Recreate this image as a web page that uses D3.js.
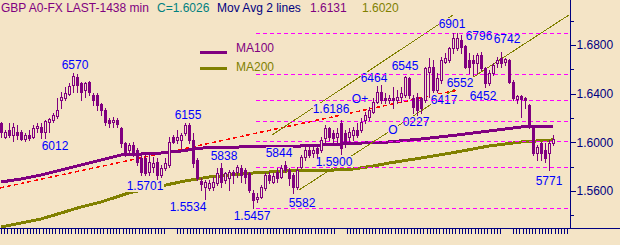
<!DOCTYPE html>
<html>
<head>
<meta charset="utf-8">
<script src="https://cdn.jsdelivr.net/npm/d3@7"></script>
<style>
  html, body { margin: 0; padding: 0; background: #f4e4c6; }
  svg { display: block; shape-rendering: crispEdges; }
  text { font-family: "Liberation Sans", Arial, sans-serif; font-size: 12px; }
</style>
</head>
<body>
<svg id="chart" width="620" height="245"></svg>
<script>
// daily bars GBP, oldest first
var open = [1.6159,1.6044,1.6101,1.6060,1.6085,1.6085,1.6027,1.6060,1.6044,1.6118,
  1.6126,1.6085,1.6167,1.6184,1.6216,1.6348,1.6364,1.6397,1.6471,1.6537,
  1.6488,1.6430,1.6496,1.6389,1.6389,1.6315,1.6266,1.6184,1.6167,1.6184,
  1.6118,1.5994,1.5937,1.5978,1.5937,1.5871,1.5871,1.5756,1.5797,1.5838,
  1.5731,1.5789,1.5814,1.6044,1.6019,1.6019,1.6077,1.6142,1.6019,1.5855,
  1.5682,1.5633,1.5625,1.5633,1.5666,1.5789,1.5690,1.5707,1.5756,1.5756,
  1.5789,1.5773,1.5748,1.5584,1.5534,1.5551,1.5625,1.5731,1.5674,1.5756,
  1.5715,1.5814,1.5773,1.5731,1.5633,1.5797,1.5879,1.5937,1.5912,1.5953,
  1.5937,1.6036,1.6118,1.6077,1.6044,1.6159,1.6077,1.6044,1.6060,1.6101,
  1.6101,1.6184,1.6208,1.6249,1.6331,1.6414,1.6364,1.6348,1.6364,1.6348,
  1.6373,1.6389,1.6529,1.6364,1.6373,1.6364,1.6348,1.6578,1.6619,1.6430,
  1.6512,1.6660,1.6677,1.6775,1.6775,1.6841,1.6792,1.6677,1.6677,1.6652,
  1.6718,1.6611,1.6488,1.6570,1.6652,1.6693,1.6660,1.6677,1.6496,1.6356,
  1.6381,1.6364,1.6307,1.6126,1.5912,1.5994,1.5937,1.5912,1.5994];
var high = [1.6167,1.6101,1.6159,1.6159,1.6142,1.6101,1.6077,1.6101,1.6142,1.6159,
  1.6159,1.6184,1.6200,1.6241,1.6364,1.6414,1.6455,1.6488,1.6570,1.6562,
  1.6496,1.6496,1.6504,1.6405,1.6405,1.6323,1.6282,1.6200,1.6208,1.6200,
  1.6126,1.6003,1.5994,1.6003,1.5953,1.5896,1.5896,1.5896,1.5879,1.5871,
  1.5814,1.5871,1.6044,1.6060,1.6101,1.6077,1.6155,1.6155,1.6077,1.5871,
  1.5707,1.5690,1.5690,1.5715,1.5789,1.5830,1.5756,1.5773,1.5773,1.5814,
  1.5814,1.5789,1.5756,1.5608,1.5584,1.5649,1.5748,1.5756,1.5748,1.5789,
  1.5814,1.5844,1.5789,1.5748,1.5797,1.5896,1.5978,1.5978,1.5962,1.5978,
  1.6044,1.6142,1.6126,1.6101,1.6118,1.6186,1.6101,1.6118,1.6126,1.6159,
  1.6200,1.6249,1.6290,1.6364,1.6464,1.6471,1.6405,1.6389,1.6455,1.6430,
  1.6455,1.6545,1.6537,1.6389,1.6405,1.6373,1.6619,1.6693,1.6677,1.6570,
  1.6701,1.6734,1.6784,1.6901,1.6899,1.6882,1.6796,1.6734,1.6718,1.6734,
  1.6742,1.6619,1.6595,1.6652,1.6701,1.6742,1.6693,1.6685,1.6512,1.6389,
  1.6389,1.6373,1.6315,1.6134,1.5978,1.6003,1.5994,1.6019,1.6060];
var low = [1.6044,1.6036,1.6044,1.6011,1.6027,1.6019,1.6012,1.6019,1.6036,1.6085,
  1.6036,1.6036,1.6085,1.6167,1.6200,1.6282,1.6348,1.6389,1.6414,1.6414,
  1.6348,1.6373,1.6389,1.6307,1.6266,1.6225,1.6142,1.6126,1.6126,1.6126,
  1.5962,1.5888,1.5921,1.5888,1.5814,1.5731,1.5731,1.5731,1.5756,1.5701,
  1.5715,1.5773,1.5797,1.5994,1.5994,1.5962,1.6060,1.5994,1.5797,1.5690,
  1.5608,1.5534,1.5608,1.5608,1.5649,1.5633,1.5666,1.5608,1.5666,1.5715,
  1.5674,1.5666,1.5592,1.5457,1.5510,1.5543,1.5608,1.5666,1.5666,1.5674,
  1.5707,1.5756,1.5649,1.5582,1.5616,1.5789,1.5855,1.5879,1.5879,1.5879,
  1.5921,1.6003,1.6019,1.6003,1.5994,1.5900,1.5962,1.6003,1.6019,1.6044,
  1.6085,1.6159,1.6184,1.6241,1.6323,1.6323,1.6323,1.6323,1.6282,1.6323,
  1.6331,1.6373,1.6364,1.6241,1.6227,1.6241,1.6331,1.6373,1.6417,1.6414,
  1.6488,1.6652,1.6660,1.6734,1.6759,1.6734,1.6611,1.6570,1.6552,1.6570,
  1.6595,1.6452,1.6471,1.6553,1.6619,1.6619,1.6636,1.6488,1.6348,1.6323,
  1.6208,1.6282,1.6118,1.5896,1.5855,1.5855,1.5838,1.5771,1.5978];
var close = [1.6085,1.6085,1.6060,1.6126,1.6060,1.6027,1.6060,1.6036,1.6118,1.6134,
  1.6085,1.6175,1.6192,1.6225,1.6266,1.6373,1.6405,1.6463,1.6545,1.6471,
  1.6414,1.6488,1.6414,1.6348,1.6307,1.6266,1.6167,1.6159,1.6184,1.6151,
  1.5994,1.5896,1.5978,1.5896,1.5838,1.5756,1.5748,1.5838,1.5830,1.5731,
  1.5789,1.5830,1.6003,1.6003,1.6044,1.6060,1.6142,1.6019,1.5830,1.5707,
  1.5658,1.5674,1.5666,1.5674,1.5748,1.5674,1.5748,1.5756,1.5731,1.5797,
  1.5731,1.5715,1.5608,1.5526,1.5551,1.5633,1.5731,1.5690,1.5723,1.5707,
  1.5789,1.5773,1.5707,1.5633,1.5773,1.5879,1.5937,1.5896,1.5937,1.5912,
  1.6019,1.6118,1.6044,1.6036,1.6077,1.5953,1.5994,1.6085,1.6101,1.6060,
  1.6167,1.6225,1.6266,1.6331,1.6414,1.6348,1.6348,1.6364,1.6348,1.6373,
  1.6405,1.6537,1.6389,1.6290,1.6266,1.6282,1.6611,1.6619,1.6430,1.6529,
  1.6677,1.6693,1.6775,1.6858,1.6858,1.6784,1.6619,1.6619,1.6652,1.6718,
  1.6611,1.6488,1.6570,1.6636,1.6677,1.6652,1.6685,1.6496,1.6364,1.6381,
  1.6356,1.6348,1.6126,1.5912,1.5962,1.5912,1.5871,1.5994,1.6026];

// moving averages, read at some bars
var ma100Bar = [0,5,10,15,20,25,30,35,40,45,50,60,70,80,90,97,105,114,122,130,138];
var ma100 = [1.5674,1.5699,1.5731,1.5773,1.5814,1.5855,1.5896,1.5904,1.5912,1.5929,1.5953,
  1.5962,1.5962,1.5978,1.5994,1.6003,1.6027,1.6060,1.6093,1.6126,1.6131];
var ma200Bar = [0,5,10,15,20,25,32,40,46,52,63,71,84,88,93,97,105,114,122,130,138];
var ma200 = [1.5304,1.5337,1.5370,1.5419,1.5469,1.5510,1.5584,1.5641,1.5682,1.5715,1.5748,
  1.5764,1.5773,1.5781,1.5805,1.5830,1.5871,1.5921,1.5970,1.6003,1.6020];

// fibonacci levels 1.6901 / 1.5457
var fibLevels = [1.6901,1.6560,1.6349,1.6179,1.6009,1.5798,1.5457];
var fibFromBar = 63.75;

// trend lines [bar, price]
var redTrend = [[-0.25,1.5625],[114.25,1.6430]];
var upperChannel = [[67.75,1.6060],[113,1.7047]];
var lowerChannel = [[74.5,1.5608],[142,1.7047]];

// price notes
var noteText = ["6570","6012","6155","1.5701","1.5534","5838","1.5457","5844","5582","1.6186","1.5900",
  "O+","6464","O","6545","0227","6417","6901","6552","6796","6452","6742","5771"];
var noteBar = [18.5,13.5,46.75,36,46.75,55.75,62.75,69.5,75.25,82.5,83.25,
  89.75,93.25,98,101,103.75,110.75,112.75,114.75,119.5,120.5,126.5,137];
var notePrice = [1.6636,1.5970,1.6225,1.5641,1.5469,1.5888,1.5394,1.5912,1.5501,1.6274,1.5838,
  1.6356,1.6529,1.6101,1.6627,1.6167,1.6348,1.6973,1.6488,1.6874,1.6381,1.6849,1.5682];

var priceTicks = [1.56,1.60,1.64,1.68];
var minorTicks = [1.54,1.58,1.62,1.66,1.70];

var purple = "#800080", olive = "#808000", navy = "#000080", bg = "#f4e4c6";

var svg = d3.select("#chart");
svg.append("rect").attr("width", 620).attr("height", 245).attr("fill", bg);

var x = d3.scaleLinear().domain([0, 138]).range([1, 553]);
var y = d3.scaleLinear().domain([1.56, 1.68]).range([191, 45]);
var axisX = 570, axisY = 228;

var plot = svg.append("g");

// red trend line
plot.append("line")
  .attr("x1", x(redTrend[0][0])).attr("y1", y(redTrend[0][1]))
  .attr("x2", x(redTrend[1][0])).attr("y2", y(redTrend[1][1]))
  .attr("stroke", "#ff0000").attr("stroke-width", 1.5)
  .attr("stroke-dasharray", "4,3");

// moving averages
var maLine = d3.line()
  .x(function(d) { return x(d[0]); })
  .y(function(d) { return y(d[1]); });

plot.append("path")
  .datum(ma100Bar.map(function(b, i) { return [b, ma100[i]]; }))
  .attr("d", maLine).attr("fill", "none")
  .attr("stroke", purple).attr("stroke-width", 3);

plot.append("path")
  .datum(ma200Bar.map(function(b, i) { return [b, ma200[i]]; }))
  .attr("d", maLine).attr("fill", "none")
  .attr("stroke", olive).attr("stroke-width", 3);

// channel
[upperChannel, lowerChannel].forEach(function(c) {
  plot.append("line")
    .attr("x1", x(c[0][0])).attr("y1", y(c[0][1]))
    .attr("x2", x(c[1][0])).attr("y2", y(c[1][1]))
    .attr("stroke", olive).attr("stroke-width", 1);
});

// legend
var legend = svg.append("g");
[["MA100", purple, 52, 48], ["MA200", olive, 68, 67]].forEach(function(l) {
  legend.append("line").attr("x1", 200).attr("x2", 227)
    .attr("y1", l[2]).attr("y2", l[2])
    .attr("stroke", l[1]).attr("stroke-width", 3);
  legend.append("text").attr("x", 236).attr("y", l[3])
    .attr("dominant-baseline", "central").attr("fill", l[1]).text(l[0]);
});

// notes with a box in the background colour
var notes = svg.append("g").selectAll("g")
  .data(noteText)
  .enter()
  .append("g");

notes.append("text")
  .attr("x", function(d, i) { return x(noteBar[i]); })
  .attr("y", function(d, i) { return y(notePrice[i]); })
  .attr("text-anchor", "middle")
  .attr("dominant-baseline", "central")
  .attr("fill", "#0000ff")
  .text(function(d) { return d; });

notes.each(function() {
  var b = d3.select(this).select("text").node().getBBox();
  d3.select(this).insert("rect", "text")
    .attr("x", b.x).attr("y", b.y + 1)
    .attr("width", b.width).attr("height", b.height - 2)
    .attr("fill", bg);
});

// fib lines
svg.append("g").selectAll("line")
  .data(fibLevels)
  .enter()
  .append("line")
  .attr("x1", x(fibFromBar))
  .attr("x2", axisX)
  .attr("y1", function(d) { return Math.round(y(d)) + 0.5; })
  .attr("y2", function(d) { return Math.round(y(d)) + 0.5; })
  .attr("stroke", "#ff00ff")
  .attr("stroke-dasharray", "4,3");

// candles
var bars = svg.append("g").selectAll("g")
  .data(open)
  .enter()
  .append("g");

bars.append("line")
  .attr("x1", function(d, i) { return x(i) + 0.5; })
  .attr("x2", function(d, i) { return x(i) + 0.5; })
  .attr("y1", function(d, i) { return Math.round(y(high[i])); })
  .attr("y2", function(d, i) { return Math.round(y(low[i])) + 1; })
  .attr("stroke", purple);

bars.append("rect")
  .attr("x", function(d, i) { return close[i] >= d ? x(i) - 0.5 : x(i) - 1; })
  .attr("y", function(d, i) {
    var t = Math.round(y(Math.max(d, close[i])));
    return close[i] >= d ? t + 0.5 : t;
  })
  .attr("width", function(d, i) { return close[i] >= d ? 2 : 3; })
  .attr("height", function(d, i) {
    var h = Math.round(y(Math.min(d, close[i]))) - Math.round(y(Math.max(d, close[i])));
    return close[i] >= d ? Math.max(h, 1) : Math.max(h, 1) + 1;
  })
  .attr("fill", function(d, i) { return close[i] >= d ? bg : purple; })
  .attr("stroke", function(d, i) { return close[i] >= d ? purple : "none"; });

// right price axis
svg.append("line")
  .attr("x1", axisX + 0.5).attr("x2", axisX + 0.5)
  .attr("y1", 0).attr("y2", axisY)
  .attr("stroke", navy);

var yAxis = svg.append("g")
  .attr("transform", "translate(" + (axisX + 0.5) + ",0)")
  .call(d3.axisRight(y).tickValues(priceTicks).tickSize(5).tickPadding(1)
    .tickFormat(d3.format(".4f")));
yAxis.select(".domain").remove();
yAxis.selectAll("line").attr("stroke", navy);
yAxis.selectAll("text").attr("fill", navy)
  .style("font-family", '"Liberation Sans", Arial, sans-serif').style("font-size", "12px");

svg.append("g").selectAll("line")
  .data(minorTicks)
  .enter()
  .append("line")
  .attr("x1", axisX).attr("x2", axisX + 4)
  .attr("y1", function(d) { return Math.round(y(d)) + 0.5; })
  .attr("y2", function(d) { return Math.round(y(d)) + 0.5; })
  .attr("stroke", navy);

// time axis: dense day ticks with a break between periods
svg.append("line")
  .attr("x1", 0).attr("x2", 620)
  .attr("y1", axisY + 0.5).attr("y2", axisY + 0.5)
  .attr("stroke", navy);

var tickBreaks = [[165, 174], [335, 344], [503, 511]];
var dayTicks = d3.range(1, axisX, 3.2).filter(function(t) {
  return !tickBreaks.some(function(b) { return t > b[0] && t < b[1]; });
});

svg.append("g").selectAll("line")
  .data(dayTicks)
  .enter()
  .append("line")
  .attr("x1", function(d) { return Math.round(d) + 0.5; })
  .attr("x2", function(d) { return Math.round(d) + 0.5; })
  .attr("y1", axisY).attr("y2", axisY + 6)
  .attr("stroke", navy);

// header
var head = svg.append("g");
[["GBP A0-FX LAST-1438 min", 1, purple], ["C=1.6026", 157, "#008080"],
 ["Mov Avg 2 lines", 217, navy], ["1.6131", 310, purple], ["1.6020", 362, olive]]
  .forEach(function(h) {
    head.append("text").attr("x", h[1]).attr("y", 12).attr("fill", h[2]).text(h[0]);
  });
</script>
</body>
</html>
